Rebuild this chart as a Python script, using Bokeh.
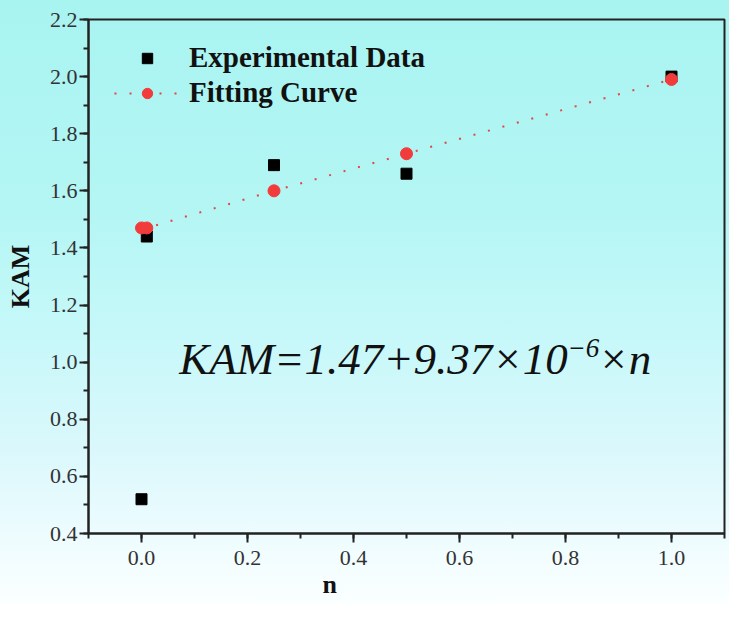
from bokeh.plotting import figure
from bokeh.models import Range1d, SingleIntervalTicker, Legend, LegendItem, Label, NumeralTickFormatter, Title
from bokeh.embed import file_html
from bokeh.resources import INLINE

# Data
exp_n = [0.0, 0.01, 0.25, 0.5, 1.0]
exp_kam = [0.52, 1.44, 1.69, 1.66, 2.00]
fit_n = [0.0, 0.01, 0.25, 0.5, 1.0]
fit_kam = [1.47, 1.47, 1.60, 1.73, 1.99]

SERIF = "Liberation Serif"

p = figure(width=729, height=605, output_backend="svg", toolbar_location=None,
           x_range=Range1d(-0.1, 1.1), y_range=Range1d(0.4, 2.2),
           min_border_left=88, min_border_right=5, min_border_top=19, min_border_bottom=72)
p.styles = {"background": "linear-gradient(to bottom, #a8f4f1 0%, #b4f6f4 35%, #c6f8f9 55%, #dbf8fc 75%, #f2fdff 92%, #fbffff 100%)"}
p.background_fill_color = None
p.border_fill_color = None
p.outline_line_color = "#222222"
p.outline_line_width = 2
p.xgrid.visible = False
p.ygrid.visible = False

p.xaxis.ticker = SingleIntervalTicker(interval=0.2, num_minor_ticks=2)
p.yaxis.ticker = SingleIntervalTicker(interval=0.2, num_minor_ticks=2)
for ax in (p.xaxis, p.yaxis):
    ax.formatter = NumeralTickFormatter(format="0.0")
    ax.axis_line_width = 2
    ax.axis_line_color = "#222222"
    ax.major_tick_line_width = 2
    ax.minor_tick_line_width = 2
    ax.major_tick_line_color = "#222222"
    ax.minor_tick_line_color = "#222222"
    ax.major_tick_in = 0
    ax.major_tick_out = 9
    ax.minor_tick_in = 0
    ax.minor_tick_out = 5
    ax.major_label_text_font = SERIF
    ax.major_label_text_font_size = "22px"
    ax.major_label_text_color = "#333333"
    ax.axis_label_text_font = SERIF
    ax.axis_label_text_font_style = "bold"
    ax.axis_label_text_font_size = "26px"
    ax.axis_label_text_color = "#111111"
p.xaxis.major_label_standoff = 8
p.yaxis.major_label_standoff = 2
p.yaxis.axis_label = "KAM"
p.yaxis.axis_label_standoff = 12

x_title = Title(text="n", align="left", offset=234, standoff=0,
                text_font=SERIF, text_font_style="bold", text_font_size="26px",
                text_color="#111111")
p.add_layout(x_title, "below")

sq = p.scatter(exp_n, exp_kam, marker="square", size=11, color="black")
ln = p.line(fit_n, fit_kam, line_color="#e04848", line_width=2, line_dash="2 13")
ci = p.scatter(fit_n, fit_kam, marker="circle", size=12, color="#f23b3b")

legend = Legend(items=[LegendItem(label="Experimental Data", renderers=[sq]),
                       LegendItem(label="Fitting Curve", renderers=[ln, ci])],
                location=(26, 424), margin=0, padding=0, spacing=2,
                glyph_width=66, glyph_height=26, label_height=26, label_standoff=9,
                background_fill_alpha=0, border_line_color=None,
                label_text_font=SERIF, label_text_font_style="bold",
                label_text_font_size="29px", label_text_color="#111111")
p.add_layout(legend)

eq_main = Label(x=0.071, y=1.010, text="KAM=1.47+9.37×10", text_font=SERIF,
                text_font_style="italic", text_font_size="45px", text_color="#111111",
                text_baseline="middle", text_align="left")
eq_sup = Label(x=0.804, y=1.048, text="−6", text_font=SERIF,
               text_font_style="italic", text_font_size="27px", text_color="#111111",
               text_baseline="middle", text_align="left")
eq_end = Label(x=0.862, y=1.010, text="×n", text_font=SERIF,
               text_font_style="italic", text_font_size="45px", text_color="#111111",
               text_baseline="middle", text_align="left")
p.add_layout(eq_main)
p.add_layout(eq_sup)
p.add_layout(eq_end)

open("out.html", "w").write(file_html(p, INLINE))
